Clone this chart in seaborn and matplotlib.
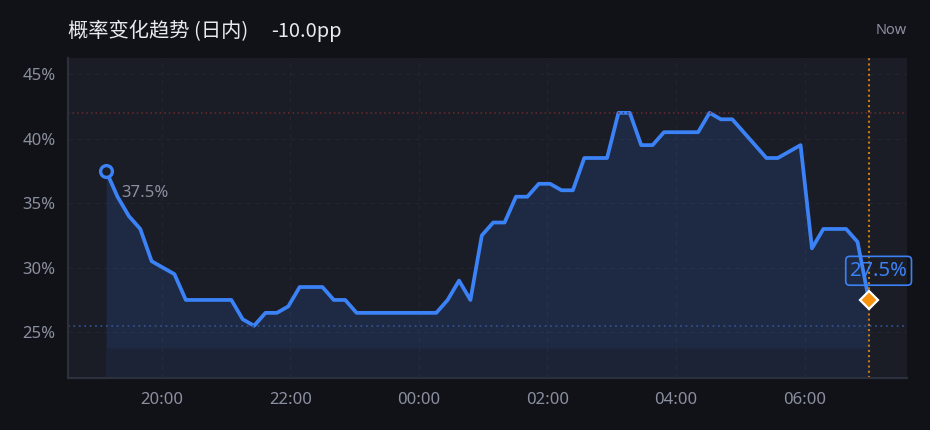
import matplotlib
matplotlib.use("Agg")
import matplotlib.pyplot as plt
import matplotlib.dates as mdates
from matplotlib.ticker import FuncFormatter
import seaborn as sns
import pandas as pd

# intraday probability samples (%), evenly spaced from ~19:08 to 07:00
prob = [37.5, 35.5, 34.0, 33.0, 30.5, 30.0, 29.5, 27.5, 27.5, 27.5,
        27.5, 27.5, 26.0, 25.5, 26.5, 26.5, 27.0, 28.5, 28.5, 28.5,
        27.5, 27.5, 26.5, 26.5, 26.5, 26.5, 26.5, 26.5, 26.5, 26.5,
        27.5, 29.0, 27.5, 32.5, 33.5, 33.5, 35.5, 35.5, 36.5, 36.5,
        36.0, 36.0, 38.5, 38.5, 38.5, 42.0, 42.0, 39.5, 39.5, 40.5,
        40.5, 40.5, 40.5, 42.0, 41.5, 41.5, 40.5, 39.5, 38.5, 38.5,
        39.0, 39.5, 31.5, 33.0, 33.0, 33.0, 32.0, 27.5]
start_time = "2024-05-01 19:08"
end_time = "2024-05-02 07:00"
yticks = [25, 30, 35, 40, 45]
title = "概率变化趋势 (日内)"
change = f"{prob[-1] - prob[0]:.1f}pp"

times = pd.date_range(start_time, end_time, periods=len(prob))
df = pd.DataFrame({"time": times, "prob": prob})

BG = "#111217"
PANEL = "#1a1c26"
BLUE = "#3b82f6"
TICK = "#8b90a0"

sns.set_theme(style="dark")
plt.rcParams["font.family"] = ["Noto Sans", "Noto Sans CJK SC", "DejaVu Sans"]

fig, ax = plt.subplots(figsize=(9.3, 4.3), dpi=100)
fig.patch.set_facecolor(BG)
ax.set_facecolor(PANEL)
fig.subplots_adjust(left=0.0731, right=0.9753, bottom=0.1209, top=0.8651)

ymin, ymax = 21.45, 46.25
band = 23.8

ax.fill_between(df["time"], df["prob"], band, color=BLUE, alpha=0.14, lw=0)
ax.fill_between(df["time"], band, ymin, color=BLUE, alpha=0.08, lw=0)
sns.lineplot(data=df, x="time", y="prob", ax=ax, color=BLUE, linewidth=2.7)

# max / min reference lines
ax.axhline(max(prob), color="#6b2a30", linestyle=(0, (1, 2)), linewidth=1.1)
ax.axhline(min(prob), color="#2f4f8c", linestyle=(0, (1, 2)), linewidth=1.3)
# "now" marker line
ax.axvline(df["time"].iloc[-1], color="#c97a12", linestyle=(0, (1, 1.5)), linewidth=1.5)

# start marker + label
ax.plot(df["time"].iloc[0], prob[0], marker="o", ms=8.5, mfc=PANEL, mec=BLUE, mew=2.4, zorder=5)
ax.annotate(f"{prob[0]:.1f}%", (df["time"].iloc[0], prob[0]), xytext=(11, -16),
            textcoords="offset points", color=TICK, fontsize=12, va="center", ha="left")

# end marker + boxed label
ax.plot(df["time"].iloc[-1], prob[-1], marker="D", ms=9, mfc="#f7930f", mec="white", mew=1.6, zorder=6)
ax.annotate(f"{prob[-1]:.1f}%", (df["time"].iloc[-1], prob[-1]), xytext=(7, 21),
            textcoords="offset points", color=BLUE, fontsize=14.5, va="center", ha="center",
            bbox=dict(boxstyle="round,pad=0.22,rounding_size=0.2", fc="none", ec=BLUE, lw=1.2),
            annotation_clip=False, zorder=4)

ax.set_ylim(ymin, ymax)
ax.margins(x=0.05)
ax.set_yticks(yticks)
ax.yaxis.set_major_formatter(FuncFormatter(lambda v, p: f"{v:.0f}%"))
ax.xaxis.set_major_locator(mdates.HourLocator(byhour=range(0, 24, 2)))
ax.xaxis.set_major_formatter(mdates.DateFormatter("%H:%M"))
ax.set_xlabel("")
ax.set_ylabel("")
ax.tick_params(axis="both", length=0, colors=TICK, labelsize=12)
ax.tick_params(axis="y", pad=9)
ax.tick_params(axis="x", pad=10)

ax.grid(True, color="#22252f", linestyle=(0, (4, 4)), linewidth=0.8)
for side in ["top", "right"]:
    ax.spines[side].set_visible(False)
for side in ["left", "bottom"]:
    ax.spines[side].set_color("#2c2f3c")
    ax.spines[side].set_linewidth(1.6)

fig.text(68 / 930, 1 - 32 / 430, title, color="#e8eaf0", fontsize=14.6, va="center", ha="left",
         family=["Noto Sans CJK SC", "DejaVu Sans"])
fig.text(271 / 930, 1 - 32 / 430, change, color="#e8eaf0", fontsize=14.4, va="center", ha="left",
         family=["Noto Sans CJK SC", "DejaVu Sans"])
fig.text(907 / 930, 1 - 30 / 430, "Now", color=TICK, fontsize=10.5, va="center", ha="right")

fig.savefig("out.png", dpi=100, facecolor=BG)
